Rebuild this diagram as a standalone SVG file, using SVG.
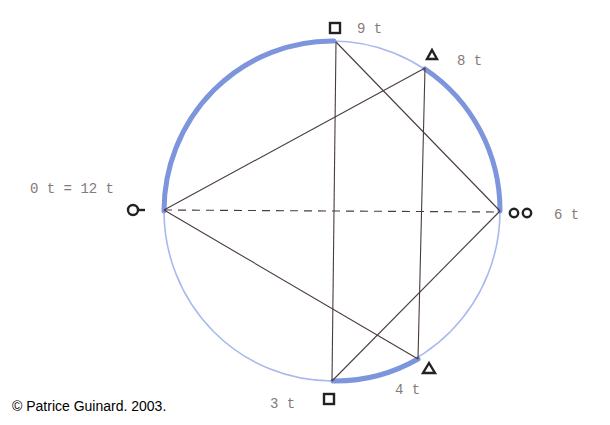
<svg xmlns="http://www.w3.org/2000/svg" width="610" height="425" viewBox="0 0 610 425">
<style>
.lbl{font-family:"Liberation Mono","DejaVu Sans Mono",monospace;font-size:14px;fill:#857a7a}
.ln{stroke:#4a3c3c;stroke-width:1.1;fill:none}
.thick{stroke:#7d95dc;stroke-width:5;fill:none;stroke-linecap:round}
.mk{stroke:#222;stroke-width:2.4;fill:none}
</style>
<rect width="610" height="425" fill="#ffffff"/>
<g id="circle">
<ellipse cx="332" cy="211" rx="168" ry="170" fill="none" stroke="#a9b9ee" stroke-width="1.6"/>
<path class="thick" d="M164,211 A168,170 0 0 1 334,41"/>
<path class="thick" d="M425,69 A168,170 0 0 1 500,211"/>
<path class="thick" d="M418,359 A168,170 0 0 1 333,381"/>
</g>
<g id="connectors">
<line class="ln" x1="336" y1="42" x2="332" y2="381"/>
<line class="ln" x1="336" y1="42" x2="500" y2="211"/>
<line class="ln" x1="500" y1="211" x2="332" y2="381"/>
<line class="ln" x1="425" y1="68" x2="418" y2="359"/>
<line class="ln" x1="425" y1="68" x2="164" y2="210"/>
<line class="ln" x1="164" y1="210" x2="418" y2="359"/>
<line class="ln" x1="164" y1="210" x2="500" y2="212" stroke-dasharray="8 6"/>
</g>
<g id="node-0t">
<circle class="mk" cx="133" cy="210" r="5"/>
<line class="mk" x1="138" y1="210" x2="145" y2="210"/>
<text class="lbl" x="30" y="193">0 t = 12 t</text>
</g>
<g id="node-9t">
<rect class="mk" x="330" y="23" width="10" height="10"/>
<text class="lbl" x="357" y="33">9 t</text>
</g>
<g id="node-8t">
<polygon class="mk" points="432,50 437,59 427,59"/>
<text class="lbl" x="457" y="65">8 t</text>
</g>
<g id="node-6t">
<circle class="mk" cx="514" cy="213" r="4.2"/>
<circle class="mk" cx="527" cy="213" r="4.2"/>
<text class="lbl" x="554" y="219">6 t</text>
</g>
<g id="node-4t">
<polygon class="mk" points="429,363 435,373 423,373"/>
<text class="lbl" x="395" y="394">4 t</text>
</g>
<g id="node-3t">
<rect class="mk" x="324" y="394" width="10" height="10"/>
<text class="lbl" x="270" y="408">3 t</text>
</g>
<text x="12" y="411" font-family="Liberation Sans, Arial, sans-serif" font-size="14" fill="#000">© Patrice Guinard. 2003.</text>
</svg>
